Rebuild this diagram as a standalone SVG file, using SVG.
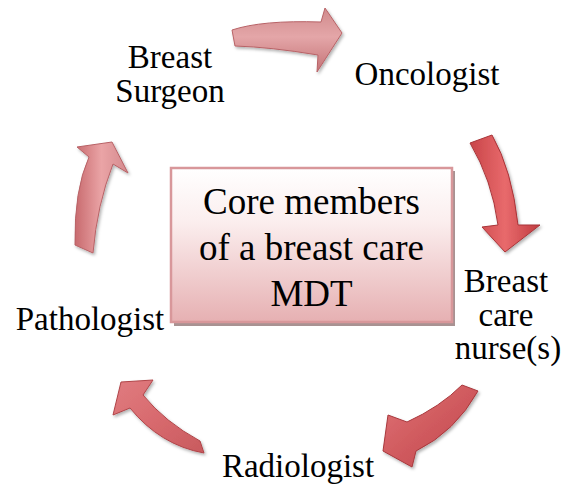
<svg xmlns="http://www.w3.org/2000/svg" width="562" height="489" viewBox="0 0 562 489">
<defs>
<style>
.lbl{font-family:"Liberation Serif","Times New Roman",serif;font-size:33px;fill:#000;text-anchor:middle}
.ctr{font-family:"Liberation Serif","Times New Roman",serif;font-size:37px;fill:#000;text-anchor:middle}
.arr{stroke-width:1;stroke-linejoin:round}
</style>
<linearGradient id="gBox" x1="0" y1="0" x2="0" y2="1">
<stop offset="0" stop-color="#ffffff"/>
<stop offset="0.35" stop-color="#fbeeee"/>
<stop offset="1" stop-color="#e6b0b2"/>
</linearGradient>
<linearGradient id="g1" x1="0" y1="0" x2="0" y2="1">
<stop offset="0" stop-color="#d08a8c"/>
<stop offset="0.45" stop-color="#e4a6a8"/>
<stop offset="1" stop-color="#c47276"/>
</linearGradient>
<linearGradient id="g2" x1="0" y1="0" x2="1" y2="0">
<stop offset="0" stop-color="#c84448"/>
<stop offset="0.5" stop-color="#e86a6c"/>
<stop offset="1" stop-color="#c03c40"/>
</linearGradient>
<linearGradient id="g3" x1="0" y1="0" x2="1" y2="1">
<stop offset="0" stop-color="#e07478"/>
<stop offset="0.5" stop-color="#d05a5e"/>
<stop offset="1" stop-color="#c04a4e"/>
</linearGradient>
<linearGradient id="g4" x1="0" y1="0" x2="1" y2="1">
<stop offset="0" stop-color="#e07c80"/>
<stop offset="0.5" stop-color="#d86a6e"/>
<stop offset="1" stop-color="#c85a5e"/>
</linearGradient>
<linearGradient id="g5" x1="0" y1="0" x2="1" y2="0">
<stop offset="0" stop-color="#c86a6e"/>
<stop offset="0.5" stop-color="#eaa4a6"/>
<stop offset="1" stop-color="#d48a8e"/>
</linearGradient>
<filter id="sh" x="-20%" y="-20%" width="150%" height="150%">
<feDropShadow dx="1.5" dy="2" stdDeviation="1.5" flood-color="#000" flood-opacity="0.3"/>
</filter>
</defs>

<g id="connectors">
<path id="arrow-surgeon-oncologist" class="arr" fill="url(#g1)" stroke="#b86266" filter="url(#sh)" d="M 232,30 Q 262,20 321,22 L 325,8 L 342,33 L 317,72 L 318,55 Q 270,47 235,46 Z"/>
<path id="arrow-oncologist-nurse" class="arr" fill="url(#g2)" stroke="#a83438" filter="url(#sh)" d="M 470,143 Q 492,180 498,225 L 482,227 L 505,252 L 540,225 L 518,225 Q 512,170 492,135 Z"/>
<path id="arrow-nurse-radiologist" class="arr" fill="url(#g3)" stroke="#a8383c" filter="url(#sh)" d="M 462,385 Q 440,407 407,422 L 388,415 L 383,451 L 412,467 L 416,451 Q 455,432 478,391 Z"/>
<path id="arrow-radiologist-pathologist" class="arr" fill="url(#g4)" stroke="#b04448" filter="url(#sh)" d="M 200,441 Q 165,422 143,395 L 153,380 L 121,382 L 113,415 L 130,408 Q 160,445 204,453 Z"/>
<path id="arrow-pathologist-surgeon" class="arr" fill="url(#g5)" stroke="#b86266" filter="url(#sh)" d="M 75,245 Q 74,190 89,157 L 77,147 L 112,142 L 128,173 L 113,164 Q 97,205 93,253 Z"/>
</g>

<g id="center">
<rect x="174" y="171" width="281" height="155" fill="#a89292"/>
<rect x="171" y="168" width="281" height="154" fill="url(#gBox)" stroke="#d8979a" stroke-width="2.5"/>
<text class="ctr" x="311.5" y="214">Core members</text>
<text class="ctr" x="311.5" y="260">of a breast care</text>
<text class="ctr" x="311.5" y="306">MDT</text>
</g>

<g id="breast-surgeon">
<text class="lbl" x="170" y="68">Breast</text>
<text class="lbl" x="170" y="102">Surgeon</text>
</g>
<g id="oncologist">
<text class="lbl" x="427" y="85">Oncologist</text>
</g>
<g id="breast-care-nurse">
<text class="lbl" x="506" y="292">Breast</text>
<text class="lbl" x="506" y="326">care</text>
<text class="lbl" x="508" y="359">nurse(s)</text>
</g>
<g id="radiologist">
<text class="lbl" x="298" y="477">Radiologist</text>
</g>
<g id="pathologist">
<text class="lbl" x="90" y="330">Pathologist</text>
</g>
</svg>
